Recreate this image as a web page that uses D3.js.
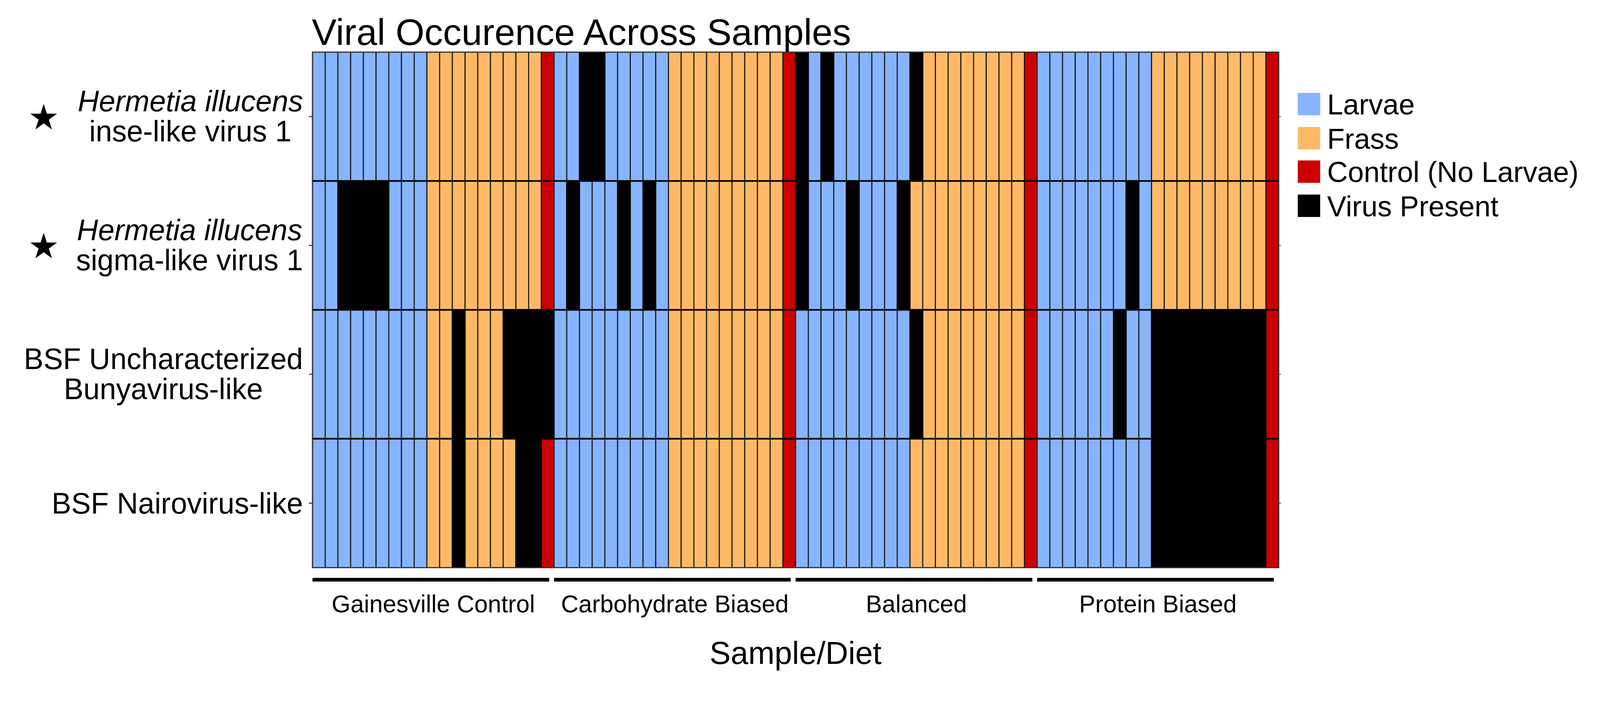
<!DOCTYPE html>
<html>
<head>
<meta charset="utf-8">
<script src="https://cdn.jsdelivr.net/npm/d3@7"></script>
<style>
  html, body { margin: 0; padding: 0; background: #ffffff; width: 100%; height: 100%; overflow: hidden; }
  svg { display: block; }
  text { font-family: "Liberation Sans", Arial, Helvetica, sans-serif; fill: #000; }
</style>
</head>
<body>
<svg id="chart" viewBox="0 0 4357 1859" preserveAspectRatio="xMinYMin meet" style="width:100vw;height:100vh"></svg>
<script>
// ---------------- DATA ----------------
const diets = ["Gainesville Control", "Carbohydrate Biased", "Balanced", "Protein Biased"];
// sample layout inside each diet: 9 larvae, 9 frass, 1 control (no larvae)
const sampleTypes = ["Larvae","Larvae","Larvae","Larvae","Larvae","Larvae","Larvae","Larvae","Larvae",
                     "Frass","Frass","Frass","Frass","Frass","Frass","Frass","Frass","Frass",
                     "Control (No Larvae)"];
const viruses = ["inse", "sigma", "bunya", "nairo"];
const virusLabels = [
  { lines: [{t: "Hermetia illucens", italic: true}, {t: "inse-like virus 1"}], star: true },
  { lines: [{t: "Hermetia illucens", italic: true}, {t: "sigma-like virus 1"}], star: true },
  { lines: [{t: "BSF Uncharacterized"}, {t: "Bunyavirus-like"}], star: false },
  { lines: [{t: "BSF Nairovirus-like"}], star: false }
];
// presence (1 = virus present) per diet: 9 larvae | 9 frass | control
const inse = [
  [0,0,0,0,0,0,0,0,0, 0,0,0,0,0,0,0,0,0, 0],
  [0,0,1,1,0,0,0,0,0, 0,0,0,0,0,0,0,0,0, 0],
  [1,0,1,0,0,0,0,0,0, 1,0,0,0,0,0,0,0,0, 0],
  [0,0,0,0,0,0,0,0,0, 0,0,0,0,0,0,0,0,0, 0]
];
const sigma = [
  [0,0,1,1,1,1,0,0,0, 0,0,0,0,0,0,0,0,0, 0],
  [0,1,0,0,0,1,0,1,0, 0,0,0,0,0,0,0,0,0, 0],
  [1,0,0,0,1,0,0,0,1, 0,0,0,0,0,0,0,0,0, 0],
  [0,0,0,0,0,0,0,1,0, 0,0,0,0,0,0,0,0,0, 0]
];
const bunya = [
  [0,0,0,0,0,0,0,0,0, 0,0,1,0,0,0,1,1,1, 1],
  [0,0,0,0,0,0,0,0,0, 0,0,0,0,0,0,0,0,0, 0],
  [0,0,0,0,0,0,0,0,0, 1,0,0,0,0,0,0,0,0, 0],
  [0,0,0,0,0,0,1,0,0, 1,1,1,1,1,1,1,1,1, 0]
];
const nairo = [
  [0,0,0,0,0,0,0,0,0, 0,0,1,0,0,0,0,1,1, 0],
  [0,0,0,0,0,0,0,0,0, 0,0,0,0,0,0,0,0,0, 0],
  [0,0,0,0,0,0,0,0,0, 0,0,0,0,0,0,0,0,0, 0],
  [0,0,0,0,0,0,0,0,0, 1,1,1,1,1,1,1,1,1, 0]
];
const legendLabels = ["Larvae", "Frass", "Control (No Larvae)", "Virus Present"];
const legendColors = ["#87b4ff", "#ffb966", "#cc0000", "#000000"];

// ---------------- BUILD ----------------
const presence = { inse, sigma, bunya, nairo };
const samples = [];
diets.forEach((d, di) => sampleTypes.forEach((t, si) => samples.push({ id: d + "_" + si, diet: d, di, si, type: t })));
const cells = [];
viruses.forEach(v => samples.forEach(s => cells.push({ virus: v, sample: s, present: presence[v][s.di][s.si] === 1 })));

const color = d3.scaleOrdinal().domain(legendLabels).range(legendColors);

const svg = d3.select("#chart");
const M = { left: 851, right: 3482, top: 142, bottom: 1546 };

const x = d3.scaleBand().domain(samples.map(s => s.id)).range([M.left, M.right]).padding(0);
const y = d3.scaleBand().domain(viruses).range([M.top, M.bottom]).padding(0);

// title
svg.append("text").attr("x", M.left - 2).attr("y", 122)
  .style("font-size", "101px").text("Viral Occurence Across Samples");

// tiles
const g = svg.append("g");
g.selectAll("rect.cell").data(cells).join("rect")
  .attr("class", "cell")
  .attr("x", d => x(d.sample.id))
  .attr("y", d => y(d.virus))
  .attr("width", x.bandwidth())
  .attr("height", y.bandwidth())
  .attr("fill", d => d.present ? color("Virus Present") : color(d.sample.type))
  .attr("stroke", d => d.present ? "#000" : "#141414")
  .attr("stroke-width", 2.8);
// re-draw present cells on top so neighbouring borders do not show through
g.selectAll("rect.present").data(cells.filter(c => c.present)).join("rect")
  .attr("class", "present")
  .attr("x", d => x(d.sample.id))
  .attr("y", d => y(d.virus))
  .attr("width", x.bandwidth())
  .attr("height", y.bandwidth())
  .attr("fill", "#000")
  .attr("stroke", "#000")
  .attr("stroke-width", 2.8);

// row separators
g.selectAll("line.rowsep").data(viruses.slice(1)).join("line")
  .attr("x1", M.left).attr("x2", M.right)
  .attr("y1", d => y(d)).attr("y2", d => y(d))
  .attr("stroke", "#000").attr("stroke-width", 4.5);

// panel border
svg.append("rect").attr("x", M.left).attr("y", M.top)
  .attr("width", M.right - M.left).attr("height", M.bottom - M.top)
  .attr("fill", "none").attr("stroke", "#333").attr("stroke-width", 3);

// left axis ticks
const yAxis = d3.axisLeft(y).tickSize(10).tickFormat("");
svg.append("g").attr("transform", `translate(${M.left},0)`).call(yAxis)
  .call(a => a.select(".domain").remove())
  .call(a => a.selectAll("line").attr("stroke", "#222").attr("stroke-width", 2.5));
// right axis ticks (small)
const yAxisR = d3.axisRight(y).tickSize(6).tickFormat("");
svg.append("g").attr("transform", `translate(${M.right},0)`).call(yAxisR)
  .call(a => a.select(".domain").remove())
  .call(a => a.selectAll("line").attr("stroke", "#555").attr("stroke-width", 2.5));

// y labels (block right-aligned, lines centered)
const labFont = 80;
const labRight = 825;
virusLabels.forEach((lab, i) => {
  const cy = y(viruses[i]) + y.bandwidth() / 2;
  const grp = svg.append("g");
  const texts = lab.lines.map(l => grp.append("text")
    .style("font-size", labFont + "px")
    .style("font-style", l.italic ? "italic" : "normal")
    .attr("text-anchor", "middle")
    .text(l.t));
  const maxW = d3.max(texts, t => t.node().getBBox().width);
  const cx = labRight - maxW / 2;
  if (lab.lines.length === 2) {
    texts[0].attr("x", cx).attr("y", cy - 14);
    texts[1].attr("x", cx).attr("y", cy + 68);
  } else {
    texts[0].attr("x", cx).attr("y", cy + 28);
  }
  if (lab.star) {
    svg.append("path")
      .attr("d", d3.symbol().type(d3.symbolStar).size(1650)())
      .attr("transform", `translate(119,${cy + 4})`)
      .attr("fill", "#000");
  }
});

// x group bars + labels
const colW = x.bandwidth();
diets.forEach((d, di) => {
  const first = samples.find(s => s.di === di);
  const last = samples.filter(s => s.di === di).slice(-1)[0];
  const x0 = x(first.id);
  const x1 = x(last.id) + colW;
  svg.append("rect").attr("x", x0).attr("y", 1574)
    .attr("width", (x1 - x0) - colW * 0.38).attr("height", 10).attr("fill", "#000");
  svg.append("text").attr("x", (x0 + x1) / 2).attr("y", 1668)
    .attr("text-anchor", "middle").style("font-size", "66px").text(d);
});

// x axis title
svg.append("text").attr("x", (M.left + M.right) / 2).attr("y", 1808)
  .attr("text-anchor", "middle").style("font-size", "86px").text("Sample/Diet");

// legend
const legY = [253, 346, 437, 530];
const lg = svg.append("g");
legendLabels.forEach((l, i) => {
  lg.append("rect").attr("x", 3534).attr("y", legY[i]).attr("width", 61).attr("height", 61)
    .attr("fill", color(l));
  lg.append("text").attr("x", 3614).attr("y", legY[i] + 59)
    .style("font-size", "78px").text(l);
});
</script>
</body>
</html>
